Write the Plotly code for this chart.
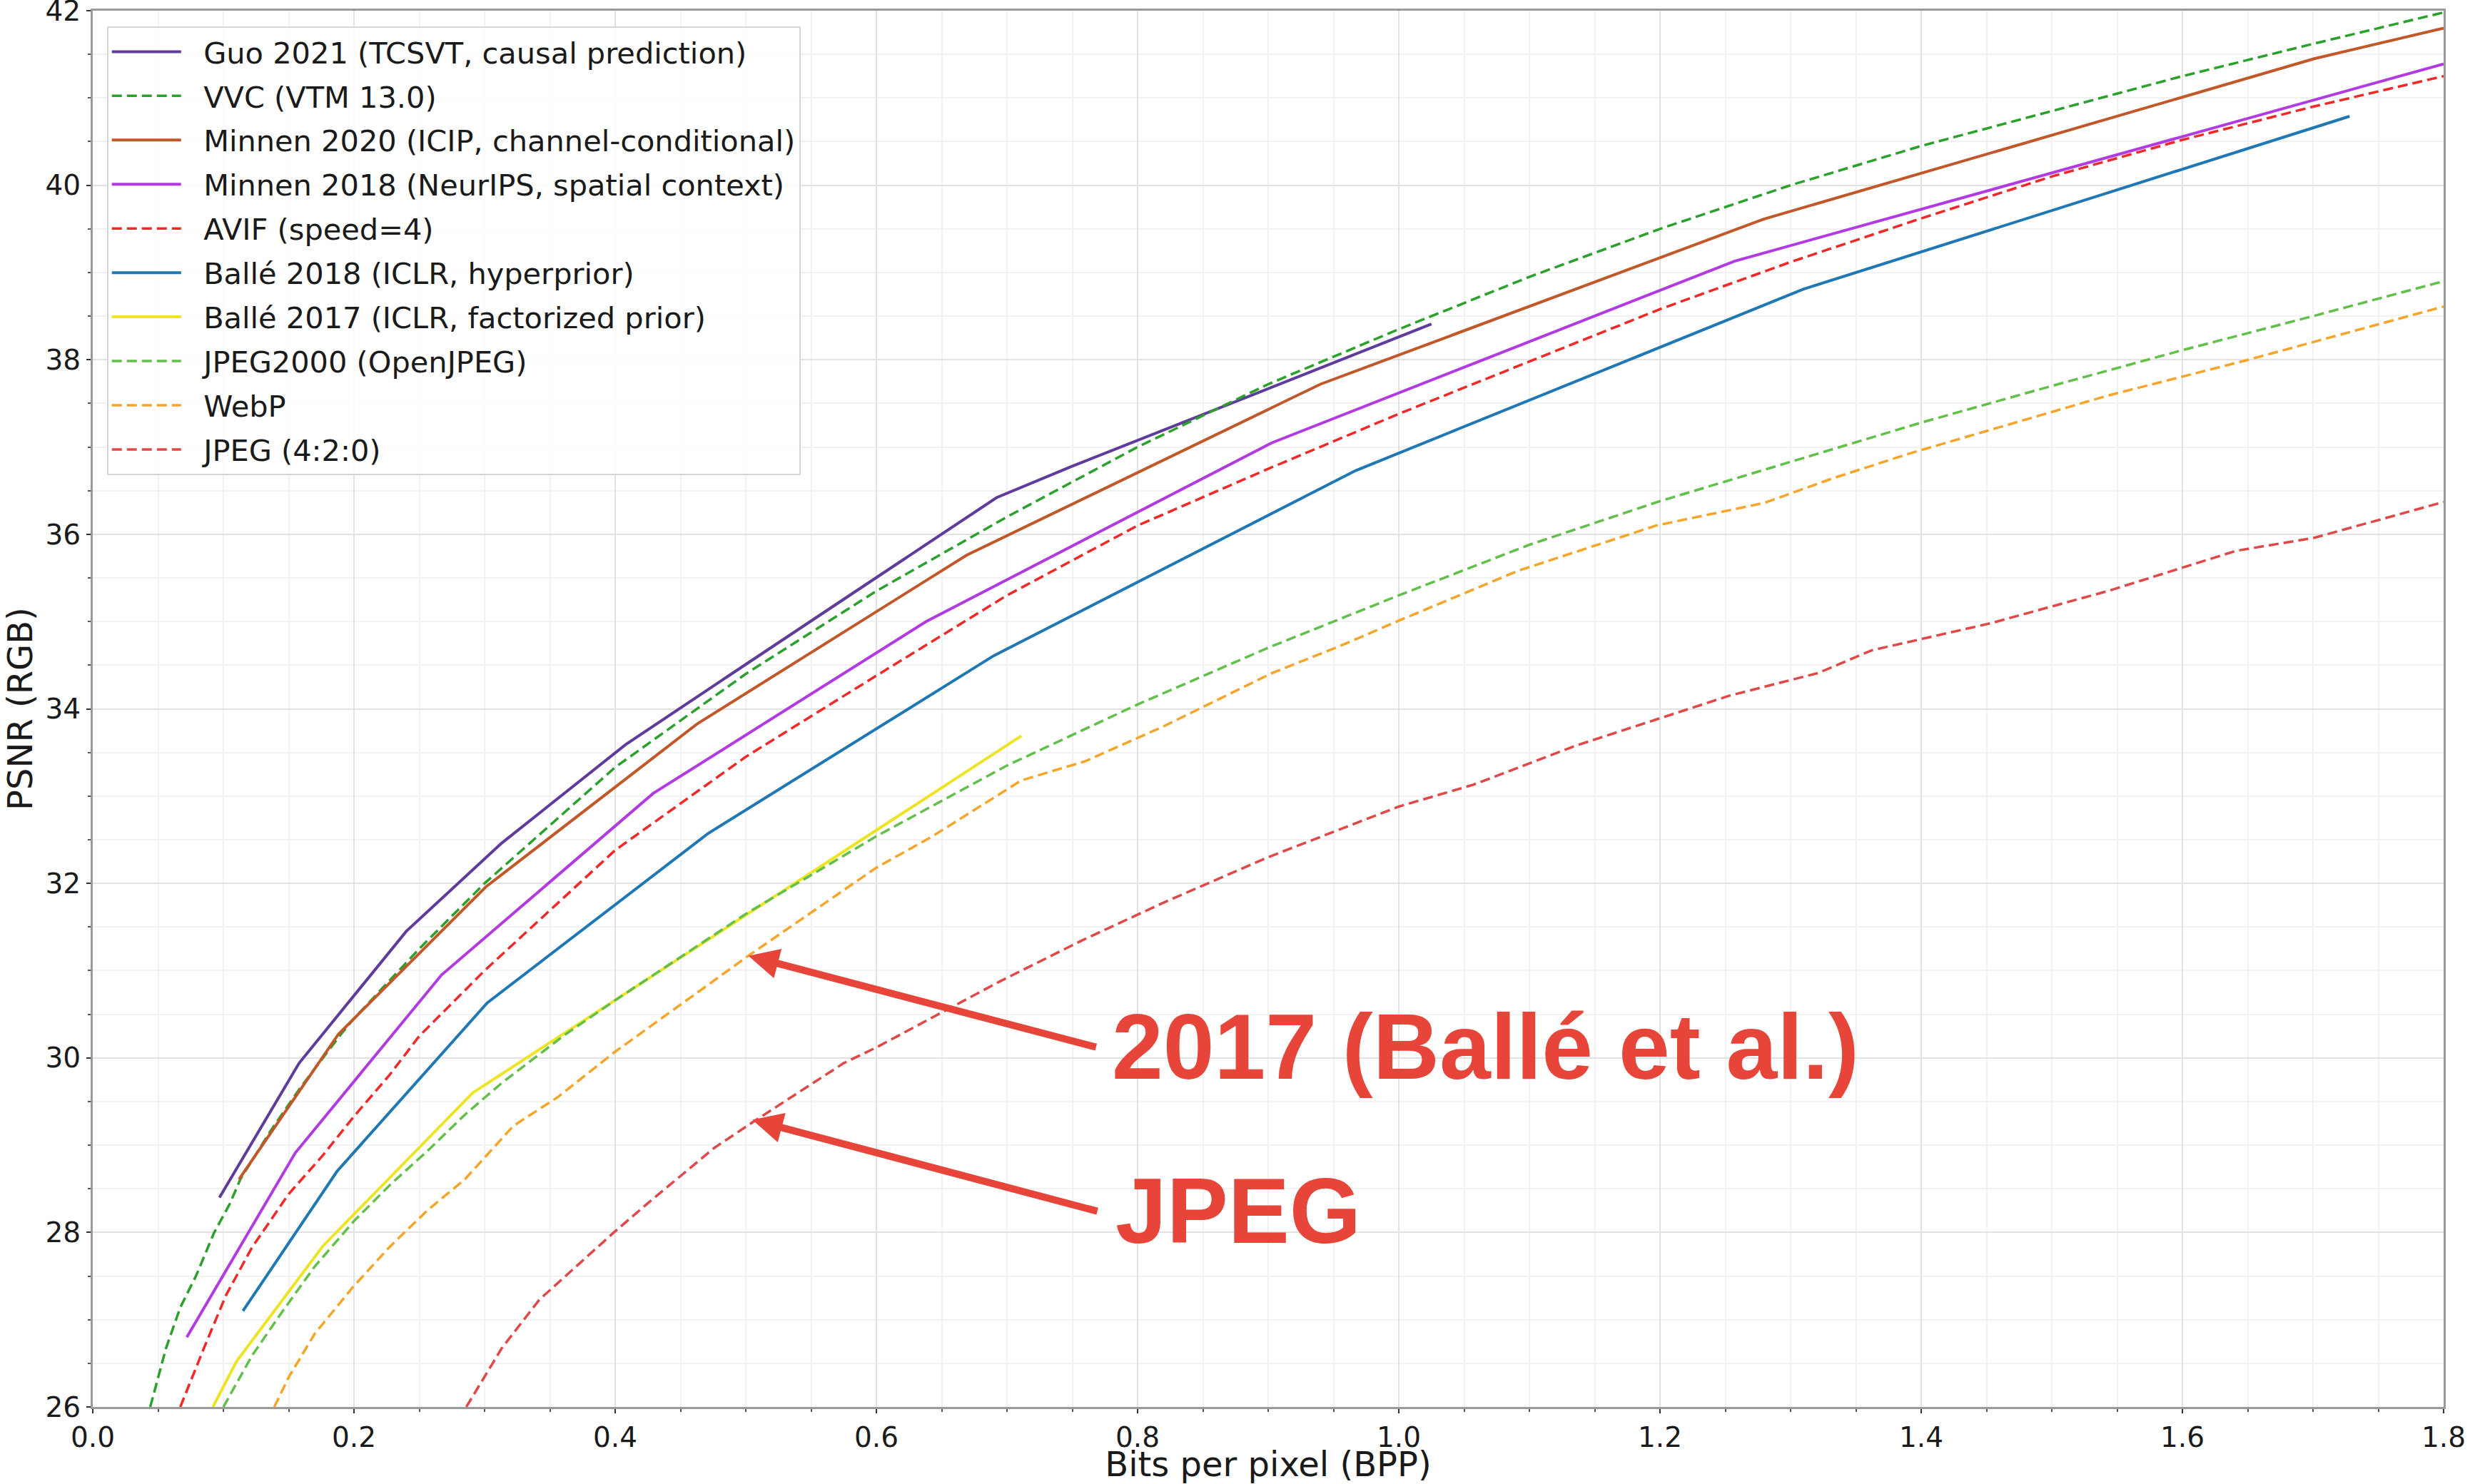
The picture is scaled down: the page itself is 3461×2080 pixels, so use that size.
import plotly.graph_objects as go

# ---------------- data ----------------
guo_x = [0.097, 0.158, 0.240, 0.313, 0.408, 0.480, 0.692, 0.750, 1.025]
guo_y = [28.40, 29.94, 31.45, 32.46, 33.59, 34.31, 36.42, 36.78, 38.41]

vvc_x = [0.044, 0.056, 0.067, 0.079, 0.093, 0.105, 0.113, 0.136, 0.159, 0.19, 0.2, 0.25, 0.3,
         0.4, 0.5, 0.6, 0.7, 0.8, 0.9, 1.0, 1.1, 1.2, 1.3, 1.4, 1.5, 1.6, 1.7, 1.8]
vvc_y = [26.0, 26.67, 27.14, 27.5, 28.0, 28.33, 28.61, 29.16, 29.66, 30.27, 30.45, 31.25, 32.0,
         33.33, 34.4, 35.35, 36.2, 37.0, 37.72, 38.35, 38.95, 39.5, 40.0, 40.45, 40.85, 41.25, 41.62, 41.98]

m20_x = [0.112, 0.188, 0.301, 0.463, 0.669, 0.940, 1.279, 1.701, 1.8]
m20_y = [28.61, 30.27, 31.96, 33.83, 35.76, 37.72, 39.61, 41.45, 41.80]

m18_x = [0.072, 0.155, 0.267, 0.429, 0.638, 0.903, 1.257, 1.8]
m18_y = [26.80, 28.91, 30.95, 33.03, 35.00, 37.05, 39.13, 41.39]

avif_x = [0.067, 0.085, 0.102, 0.122, 0.15, 0.176, 0.2, 0.227, 0.25, 0.3, 0.4, 0.5, 0.6, 0.7,
          0.8, 0.9, 1.0, 1.1, 1.2, 1.3, 1.4, 1.5, 1.6, 1.7, 1.8]
avif_y = [26.0, 26.67, 27.28, 27.83, 28.44, 28.88, 29.33, 29.8, 30.25, 31.0, 32.38, 33.45, 34.38, 35.3,
          36.1, 36.75, 37.38, 37.98, 38.58, 39.12, 39.62, 40.1, 40.52, 40.9, 41.25]

b18_x = [0.115, 0.187, 0.302, 0.471, 0.690, 0.967, 1.310, 1.728]
b18_y = [27.10, 28.70, 30.63, 32.57, 34.61, 36.73, 38.81, 40.79]

b17_x = [0.092, 0.110, 0.176, 0.291, 0.711]
b17_y = [26.0, 26.52, 27.84, 29.60, 33.69]

j2k_x = [0.100, 0.122, 0.145, 0.170, 0.2, 0.228, 0.256, 0.285, 0.313, 0.362, 0.4, 0.5, 0.6, 0.7,
         0.8, 0.9, 1.0, 1.1, 1.2, 1.3, 1.4, 1.5, 1.6, 1.7, 1.8]
j2k_y = [26.0, 26.59, 27.09, 27.61, 28.13, 28.55, 28.93, 29.35, 29.71, 30.27, 30.66, 31.65, 32.54, 33.35,
         34.05, 34.7, 35.3, 35.88, 36.38, 36.83, 37.28, 37.7, 38.11, 38.5, 38.9]

webp_x = [0.139, 0.150, 0.170, 0.199, 0.227, 0.256, 0.285, 0.322, 0.356, 0.399, 0.502, 0.6, 0.643,
          0.711, 0.76, 0.82, 0.903, 0.955, 1.0, 1.091, 1.197, 1.28, 1.332, 1.392, 1.543, 1.648, 1.8]
webp_y = [26.0, 26.34, 26.84, 27.37, 27.83, 28.25, 28.61, 29.22, 29.55, 30.06, 31.17, 32.18, 32.54,
          33.18, 33.4, 33.8, 34.41, 34.72, 35.01, 35.58, 36.1, 36.36, 36.64, 36.93, 37.59, 37.99, 38.61]

jpeg_x = [0.286, 0.313, 0.342, 0.37, 0.399, 0.427, 0.456, 0.476, 0.505, 0.54, 0.575, 0.6, 0.65, 0.695,
          0.758, 0.82, 0.9, 1.0, 1.057, 1.136, 1.253, 1.321, 1.362, 1.453, 1.543, 1.641, 1.701, 1.8]
jpeg_y = [26.0, 26.67, 27.23, 27.61, 28.0, 28.36, 28.72, 28.97, 29.26, 29.6, 29.94, 30.12, 30.52, 30.88,
          31.35, 31.78, 32.3, 32.88, 33.13, 33.58, 34.15, 34.41, 34.67, 34.98, 35.35, 35.81, 35.96, 36.37]

series = [
    ("Guo 2021 (TCSVT, causal prediction)", guo_x, guo_y, "#5f3b9c", "solid"),
    ("VVC (VTM 13.0)", vvc_x, vvc_y, "#2ca02c", "dash"),
    ("Minnen 2020 (ICIP, channel-conditional)", m20_x, m20_y, "#c0582a", "solid"),
    ("Minnen 2018 (NeurIPS, spatial context)", m18_x, m18_y, "#b13be0", "solid"),
    ("AVIF (speed=4)", avif_x, avif_y, "#f02828", "dash"),
    ("Ballé 2018 (ICLR, hyperprior)", b18_x, b18_y, "#1f77b4", "solid"),
    ("Ballé 2017 (ICLR, factorized prior)", b17_x, b17_y, "#ece424", "solid"),
    ("JPEG2000 (OpenJPEG)", j2k_x, j2k_y, "#62c04a", "dash"),
    ("WebP", webp_x, webp_y, "#f5a52a", "dash"),
    ("JPEG (4:2:0)", jpeg_x, jpeg_y, "#e04848", "dash"),
]

ann_color = "#e8453a"
fig = go.Figure()
for i, (name, xs, ys, col, ds) in enumerate(series):
    fig.add_trace(go.Scatter(
        x=xs, y=ys, mode="lines", name="\u00a0\u00a0" + name, legendgroup=f"g{i}",
        line=dict(color=col, width=4 if ds == "solid" else 3.5,
                  dash="solid" if ds == "solid" else "14px,7px"),
    ))

font_main = "DejaVu Sans"
fig.update_layout(
    width=3461, height=2080,
    margin=dict(l=130, r=37, t=15, b=108, autoexpand=False),
    paper_bgcolor="white", plot_bgcolor="white",
    font=dict(family=font_main, size=39, color="#1a1a1a"),
    showlegend=True,
    legend=dict(x=0.006, y=0.9888, xanchor="left", yanchor="top",
                bgcolor="rgba(255,255,255,0.85)", bordercolor="#d5d5d5", borderwidth=2,
                font=dict(family=font_main, size=41.5, color="#1a1a1a"),
                tracegroupgap=5, itemwidth=97),
    xaxis=dict(range=[0, 1.8], dtick=0.2, tick0=0, tickformat=".1f",
               showline=True, linecolor="#9a9a9a", linewidth=3, mirror=True,
               ticks="outside", ticklen=6, tickwidth=2, tickcolor="#333",
               showgrid=True, gridcolor="#e2e2e2", gridwidth=2, zeroline=False,
               ticklabeloverflow="allow",
               minor=dict(dtick=0.05, ticks="outside", ticklen=4, tickwidth=2, tickcolor="#555",
                          showgrid=True, gridcolor="#f2f2f2", gridwidth=2),
               title=dict(text="Bits per pixel (BPP)", font=dict(size=48), standoff=8),
               tickfont=dict(size=39)),
    yaxis=dict(range=[26, 42], dtick=2, tick0=26,
               showline=True, linecolor="#9a9a9a", linewidth=3, mirror=True,
               ticks="outside", ticklen=6, tickwidth=2, tickcolor="#333",
               showgrid=True, gridcolor="#e2e2e2", gridwidth=2, zeroline=False,
               ticklabeloverflow="allow",
               minor=dict(dtick=0.5, ticks="outside", ticklen=4, tickwidth=2, tickcolor="#555",
                          showgrid=True, gridcolor="#f2f2f2", gridwidth=2),
               title=dict(text="PSNR (RGB)", font=dict(size=48), standoff=12),
               tickfont=dict(size=39)),
)

# arrows (tip at curve, tail near label)
arrows = [((0.502, 31.17), (0.769, 30.12)), ((0.505, 29.29), (0.770, 28.24))]
for (tx, ty), (sx, sy) in arrows:
    fig.add_annotation(x=tx, y=ty, ax=sx, ay=sy, xref="x", yref="y", axref="x", ayref="y",
                       text="", showarrow=True, arrowhead=2, arrowsize=0.85, arrowwidth=10,
                       arrowcolor=ann_color, standoff=0, startstandoff=0)

labels = [("2017 (Ballé et al.)", 0.779, 30.13), ("JPEG", 0.782, 28.25)]
for txt, lx, ly in labels:
    fig.add_annotation(x=lx, y=ly, xref="x", yref="y", text=f"<b>{txt}</b>", showarrow=False,
                       xanchor="left", yanchor="middle",
                       font=dict(family="Liberation Sans", size=129, color=ann_color))

fig.write_html("out.html")
